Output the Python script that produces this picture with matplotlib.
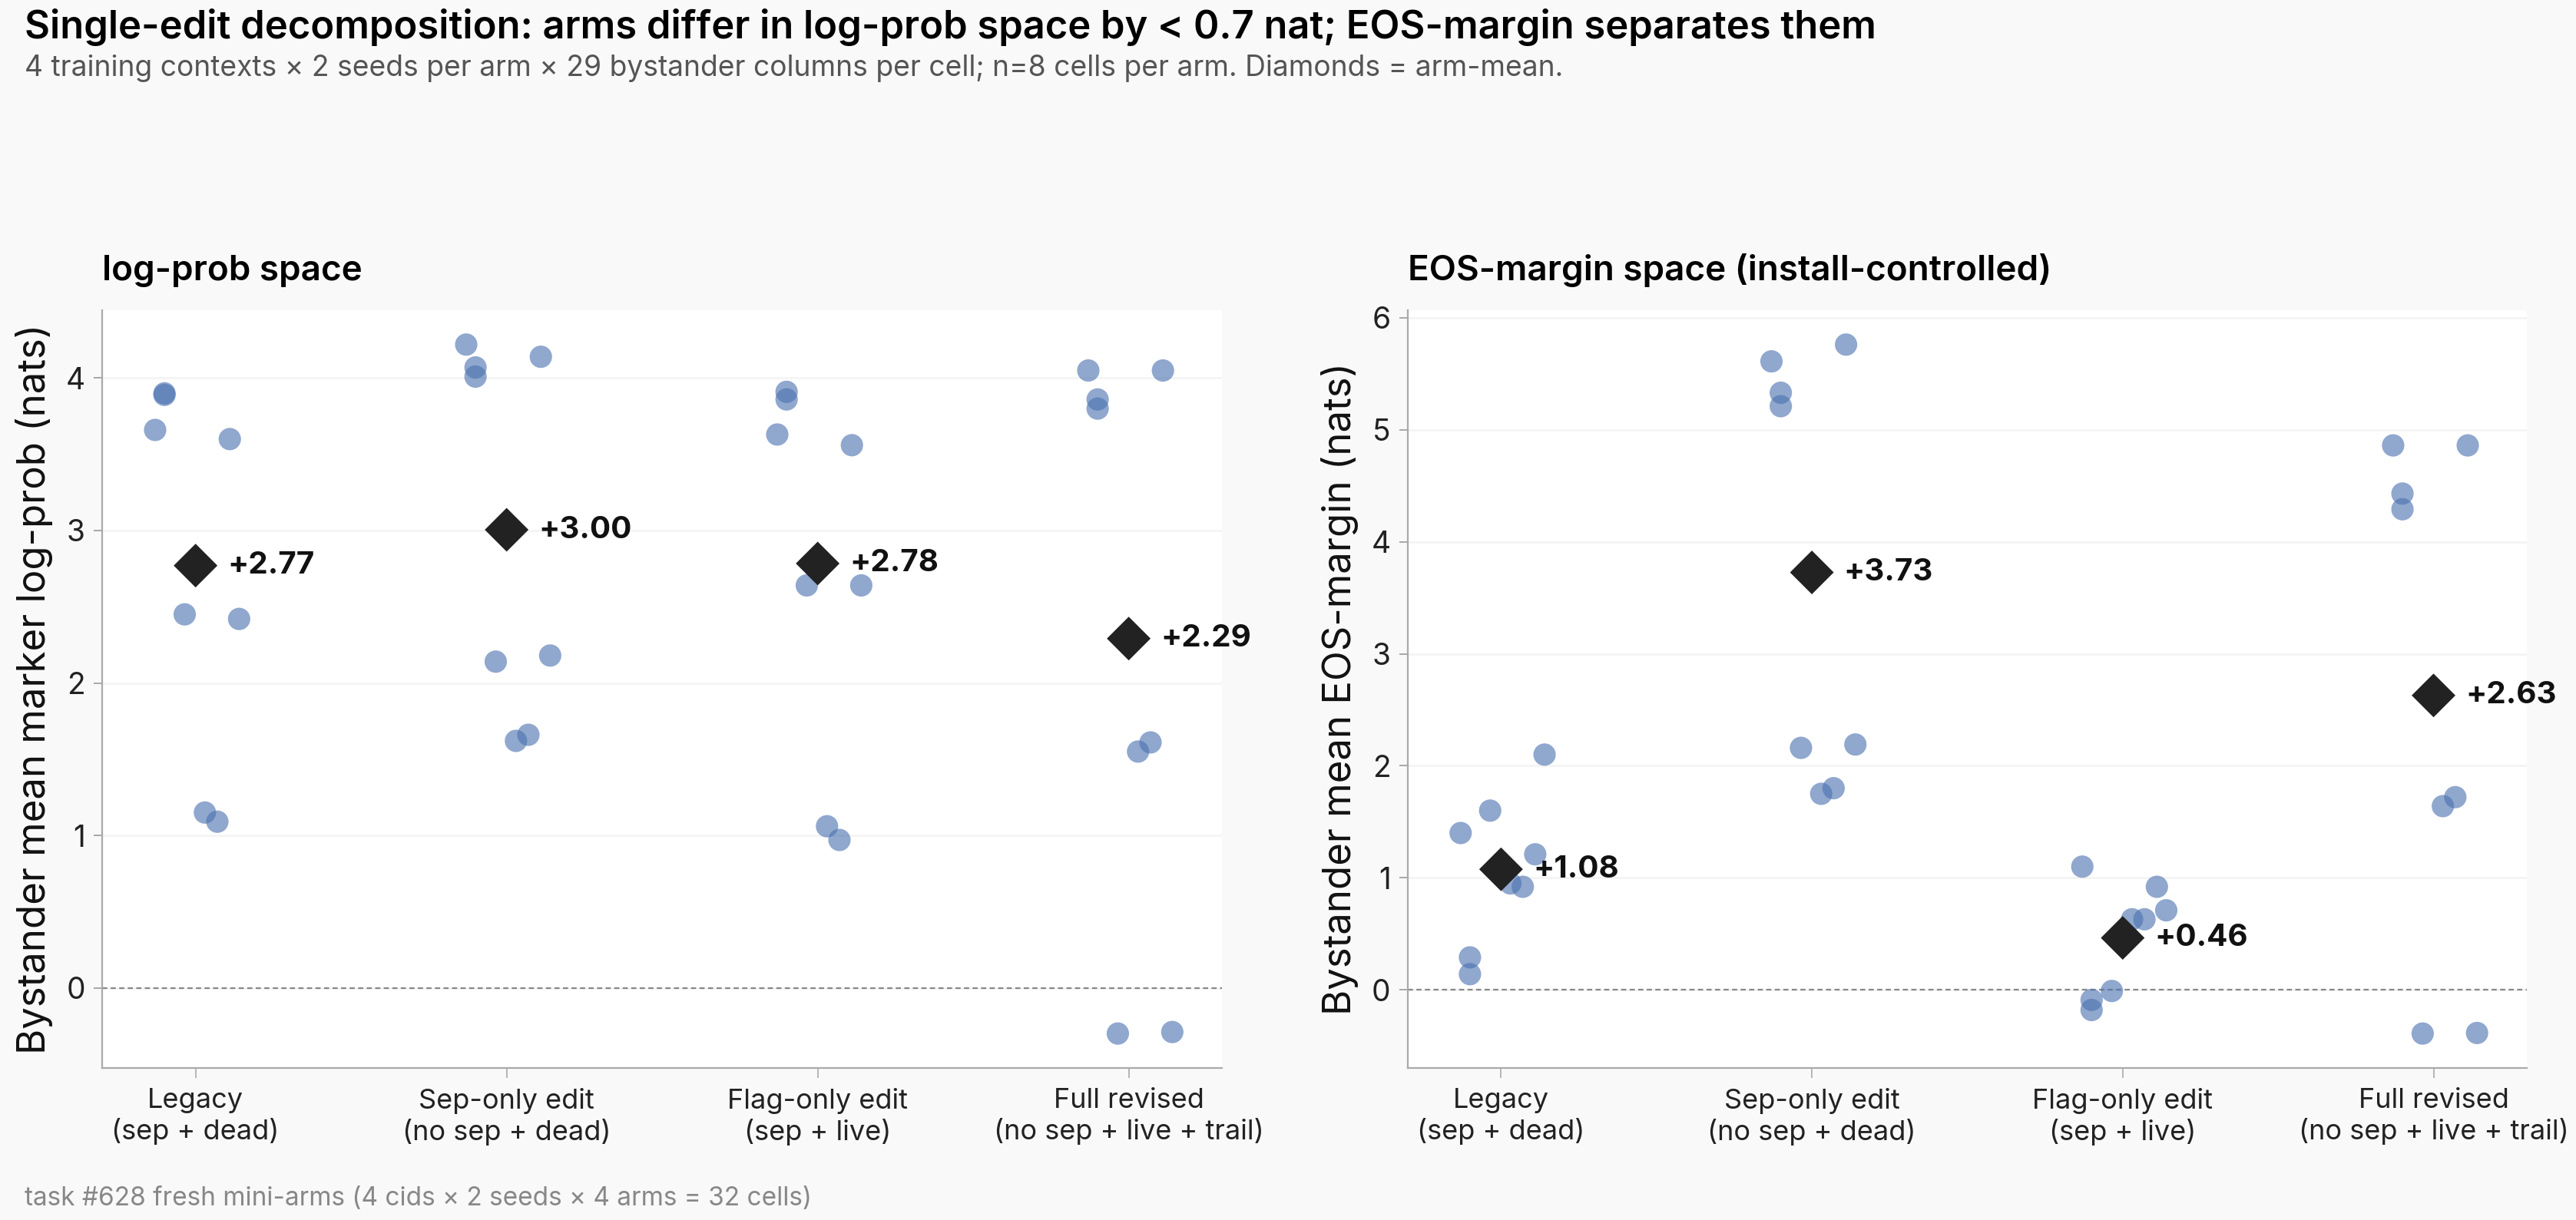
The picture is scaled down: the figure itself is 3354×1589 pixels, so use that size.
import numpy as np
import matplotlib
matplotlib.use("Agg")
import matplotlib.pyplot as plt

plt.rcParams['font.family'] = ['Inter', 'DejaVu Sans']

# arms (x categories)
arms = ['Legacy\n(sep + dead)', 'Sep-only edit\n(no sep + dead)',
        'Flag-only edit\n(sep + live)', 'Full revised\n(no sep + live + trail)']

# horizontal jitter per cell (same cell order in every arm)
jitter = [-0.13, -0.10, -0.10, 0.11, -0.035, 0.14, 0.03, 0.07]

# bystander mean marker log-prob per cell, one list per arm
logprob_legacy = [3.66, 3.90, 3.89, 3.60, 2.45, 2.42, 1.15, 1.09]
logprob_sep = [4.22, 4.07, 4.01, 4.14, 2.14, 2.18, 1.62, 1.66]
logprob_flag = [3.63, 3.91, 3.86, 3.56, 2.64, 2.64, 1.06, 0.97]
logprob_full = [4.05, 3.86, 3.80, 4.05, -0.30, -0.29, 1.55, 1.61]

# bystander mean EOS-margin per cell
eos_legacy = [1.40, 0.29, 0.14, 1.21, 1.60, 2.10, 0.95, 0.92]
eos_sep = [5.61, 5.33, 5.21, 5.76, 2.16, 2.19, 1.75, 1.80]
eos_flag = [1.10, -0.09, -0.18, 0.92, -0.01, 0.71, 0.63, 0.63]
eos_full = [4.86, 4.43, 4.29, 4.86, -0.39, -0.385, 1.64, 1.72]

panels = [
    ('log-prob space', 'Bystander mean marker log-prob (nats)',
     [logprob_legacy, logprob_sep, logprob_flag, logprob_full]),
    ('EOS-margin space (install-controlled)', 'Bystander mean EOS-margin (nats)',
     [eos_legacy, eos_sep, eos_flag, eos_full]),
]

fig = plt.figure(figsize=(16.77, 7.945), dpi=200, facecolor='#f9f9f9')
axes = [fig.add_axes([0.0397, 0.1246, 0.4347, 0.6212]),
        fig.add_axes([0.5465, 0.1246, 0.4344, 0.6212])]

for ax, (title, ylab, groups) in zip(axes, panels):
    ax.set_facecolor('white')
    for i, vals in enumerate(groups):
        xs = i + np.array(jitter)
        ax.scatter(xs, vals, s=110, color='#4c72b0', alpha=0.62,
                   edgecolors='none', zorder=3)
        m = np.mean(vals)
        ax.scatter([i], [m], marker='D', s=210, color='#222222',
                   edgecolors='none', zorder=4)
        ax.annotate(f'+{m:.2f}', (i, m), xytext=(15, 0),
                    textcoords='offset points', ha='left', va='center',
                    fontsize=14.5, fontweight='bold', color='#111111', zorder=5)
    ax.axhline(0, color='#888888', lw=0.8, ls=(0, (3, 2)), zorder=1)
    ax.set_xlim(-0.3, 3.3)
    ax.set_xticks(range(len(arms)))
    ax.set_xticklabels(arms, fontsize=13, color='#222222')
    ax.set_ylabel(ylab, fontsize=18.3, color='#111111', labelpad=6)
    ax.set_title(title, loc='left', fontsize=16.5, fontweight='semibold', pad=14)
    ax.grid(axis='y', color='#f4f4f4', lw=1)
    ax.set_axisbelow(True)
    for side in ['top', 'right']:
        ax.spines[side].set_visible(False)
    for side in ['left', 'bottom']:
        ax.spines[side].set_color('#aaaaaa')
        ax.spines[side].set_linewidth(0.8)
    ax.tick_params(axis='x', length=4.5, width=0.6, color='#aaaaaa', pad=5)
    ax.tick_params(axis='y', length=4, width=0.6, color='#999999', labelsize=14,
                   labelcolor='#222222', pad=4)

fig.text(0.0095, 0.9685, 'Single-edit decomposition: arms differ in log-prob space by < 0.7 nat; '
         'EOS-margin separates them', fontsize=18.25, fontweight='semibold', va='baseline')
fig.text(0.0095, 0.9377, '4 training contexts \u00d7 2 seeds per arm \u00d7 29 bystander columns '
         'per cell; n=8 cells per arm. Diamonds = arm-mean.', fontsize=13.4, color='#555555',
         va='baseline')
fig.text(0.0095, 0.012, 'task #628 fresh mini-arms (4 cids \u00d7 2 seeds \u00d7 4 arms = 32 cells)',
         fontsize=12, color='#888888', va='baseline')

fig.savefig('out.png', dpi=200, facecolor=fig.get_facecolor())
